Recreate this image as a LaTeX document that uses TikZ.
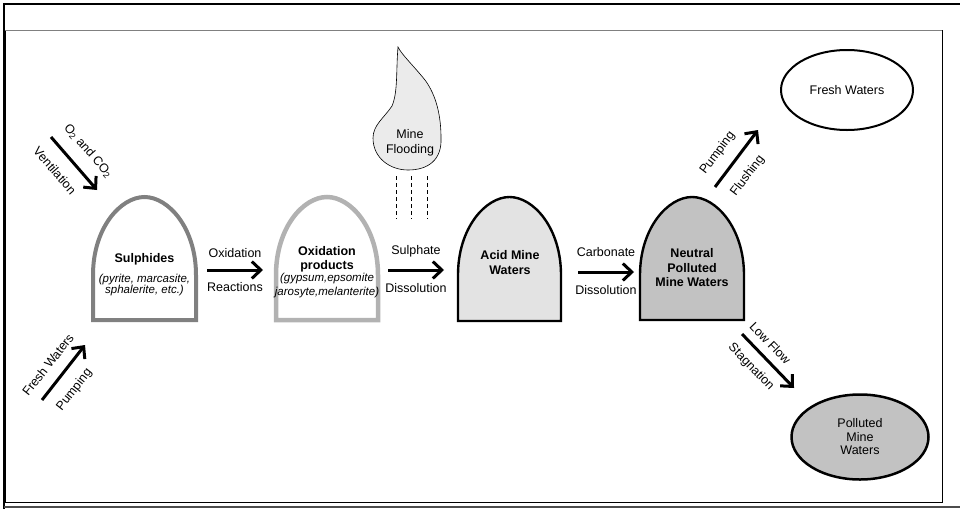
\documentclass[tikz,border=0pt]{standalone}
\usepackage{fontspec}
\setmainfont{Liberation Sans}
\usetikzlibrary{arrows.meta,shapes.geometric}

\begin{document}
\begin{tikzpicture}[x=1pt,y=-1pt,
    flow/.style={line width=3pt,-{Straight Barb[length=9pt,width=17pt]}},
    lbl/.style={font=\fontsize{12.5}{14}\selectfont,inner sep=1pt},
    hd/.style={font=\bfseries\fontsize{12.5}{14.5}\selectfont,align=center,inner sep=0pt},
    minerals/.style={font=\itshape\fontsize{11.5}{11.5}\selectfont,align=center,inner sep=0pt},
    pool/.style={ellipse,draw,line width=2pt,font=\fontsize{12.5}{13.5}\selectfont,align=center}]
    \useasboundingbox (0,0) rectangle (960,509);
    % frame
    \draw[line width=0.8pt] (5,30) rectangle (942,502);
    \draw[black!50,line width=1pt] (5,30) -- (942,30);
    \draw[line width=2.2pt] (960,4) -- (4,4) -- (4,509);
    \draw[black!70,line width=2.2pt] (4,507) -- (960,507);
    % arches
    \draw[black!50,line width=4pt] (93,320) -- (93,275) .. controls (93,228) and (120.5,197) .. (144.5,197)
        .. controls (168.5,197) and (196,228) .. (196,275) -- (196,320) -- cycle;
    \draw[black!30,line width=4.5pt] (276,320) -- (276,275) .. controls (276,228) and (303,197) .. (327,197)
        .. controls (351,197) and (378,228) .. (378,275) -- (378,320) -- cycle;
    \draw[fill=black!11,line width=2.4pt] (458,321) -- (458,275) .. controls (458,228) and (485.5,197) .. (509.5,197)
        .. controls (533.5,197) and (561,228) .. (561,275) -- (561,321) -- cycle;
    \draw[fill=black!24,line width=2.4pt] (640,320) -- (640,275) .. controls (640,228) and (668,197) .. (692,197)
        .. controls (716,197) and (744,228) .. (744,275) -- (744,320) -- cycle;
    % drop
    \draw[fill=black!8,line width=0.6pt] (398,47) .. controls (396,70) and (398,92) .. (392,106)
        .. controls (384,118) and (373,125) .. (373,138) .. controls (373,158) and (390,170) .. (408,170)
        .. controls (428,170) and (442,160) .. (441,138) .. controls (441,115) and (436,95) .. (425,80)
        .. controls (412,64) and (402,55) .. (398,47) -- cycle;
    \foreach \x in {396,411,427}
        \draw[dashed,line width=0.7pt,dash pattern=on 4pt off 3pt] (\x,176) -- (\x,219);
    \node[lbl,align=center,font=\fontsize{12.5}{15}\selectfont] (flood) at (410,143) {Mine\\Flooding};
    % texts in arches
    \node[hd] (sulph) at (144.5,259) {Sulphides};
    \node[minerals] (sulphlist) at (144.5,285) {(pyrite, marcasite,\\sphalerite, etc.)};
    \node[hd,font=\bfseries\fontsize{12.5}{14}\selectfont] (oxprod) at (327,259) {Oxidation\\products};
    \node[minerals,font=\itshape\fontsize{11.5}{14}\selectfont] (oxlist) at (327,286) {(gypsum,epsomite\\jarosyte,melanterite)};
    \node[hd,font=\bfseries\fontsize{12.5}{15}\selectfont] (acid) at (510,263) {Acid Mine\\Waters};
    \node[hd] (neutral) at (692,268) {Neutral\\Polluted\\Mine Waters};
    % end pools
    \node[pool,minimum width=132pt,minimum height=80pt] (fresh) at (847,90) {Fresh Waters};
    \node[pool,fill=black!24,line width=2.5pt,minimum width=137pt,minimum height=85pt] (polluted) at (860,437) {Polluted\\Mine\\Waters};
    % arrow ends
    \coordinate (o2a) at (51,137);   \coordinate (o2b) at (97,190);
    \coordinate (fwa) at (42,400);   \coordinate (fwb) at (85,345);
    \coordinate (oxa) at (207,270);  \coordinate (oxb) at (263,270);
    \coordinate (sua) at (388,270);  \coordinate (sub) at (444,270);
    \coordinate (caa) at (578,272);  \coordinate (cab) at (634,272);
    \coordinate (pua) at (715,187);  \coordinate (pub) at (758,130);
    \coordinate (lfa) at (742,334);  \coordinate (lfb) at (794,388);
    \draw[flow] (o2a) -- node[lbl,sloped,above=11pt,pos=0.5] (o2lab) {O\textsubscript{2} and CO\textsubscript{2}}
        node[lbl,sloped,below=12pt,pos=0.4] (ventlab) {Ventilation} (o2b);
    \draw[flow] (fwa) -- node[lbl,sloped,above=10pt,pos=0.45] (fwlab) {Fresh Waters}
        node[lbl,sloped,below=11pt,pos=0.4] (pumplab) {Pumping} (fwb);
    \draw[flow] (oxa) -- node[lbl,above=10pt] (oxlab) {Oxidation}
        node[lbl,below=10pt] (reaclab) {Reactions} (oxb);
    \draw[flow] (sua) -- node[lbl,above=10pt] (sulab) {Sulphate}
        node[lbl,below=11pt] (dislab) {Dissolution} (sub);
    \draw[flow] (caa) -- node[lbl,above=13pt] (calab) {Carbonate}
        node[lbl,below=11pt] (dis2lab) {Dissolution} (cab);
    \draw[flow] (pua) -- node[lbl,sloped,above=10pt,pos=0.4] (pulab) {Pumping}
        node[lbl,sloped,below=11pt,pos=0.4] (fllab) {Flushing} (pub);
    \draw[flow] (lfa) -- node[lbl,sloped,above=7pt,pos=0.35] (lflab) {Low Flow}
        node[lbl,sloped,below=8pt,pos=0.4] (stlab) {Stagnation} (lfb);
\end{tikzpicture}
\end{document}
